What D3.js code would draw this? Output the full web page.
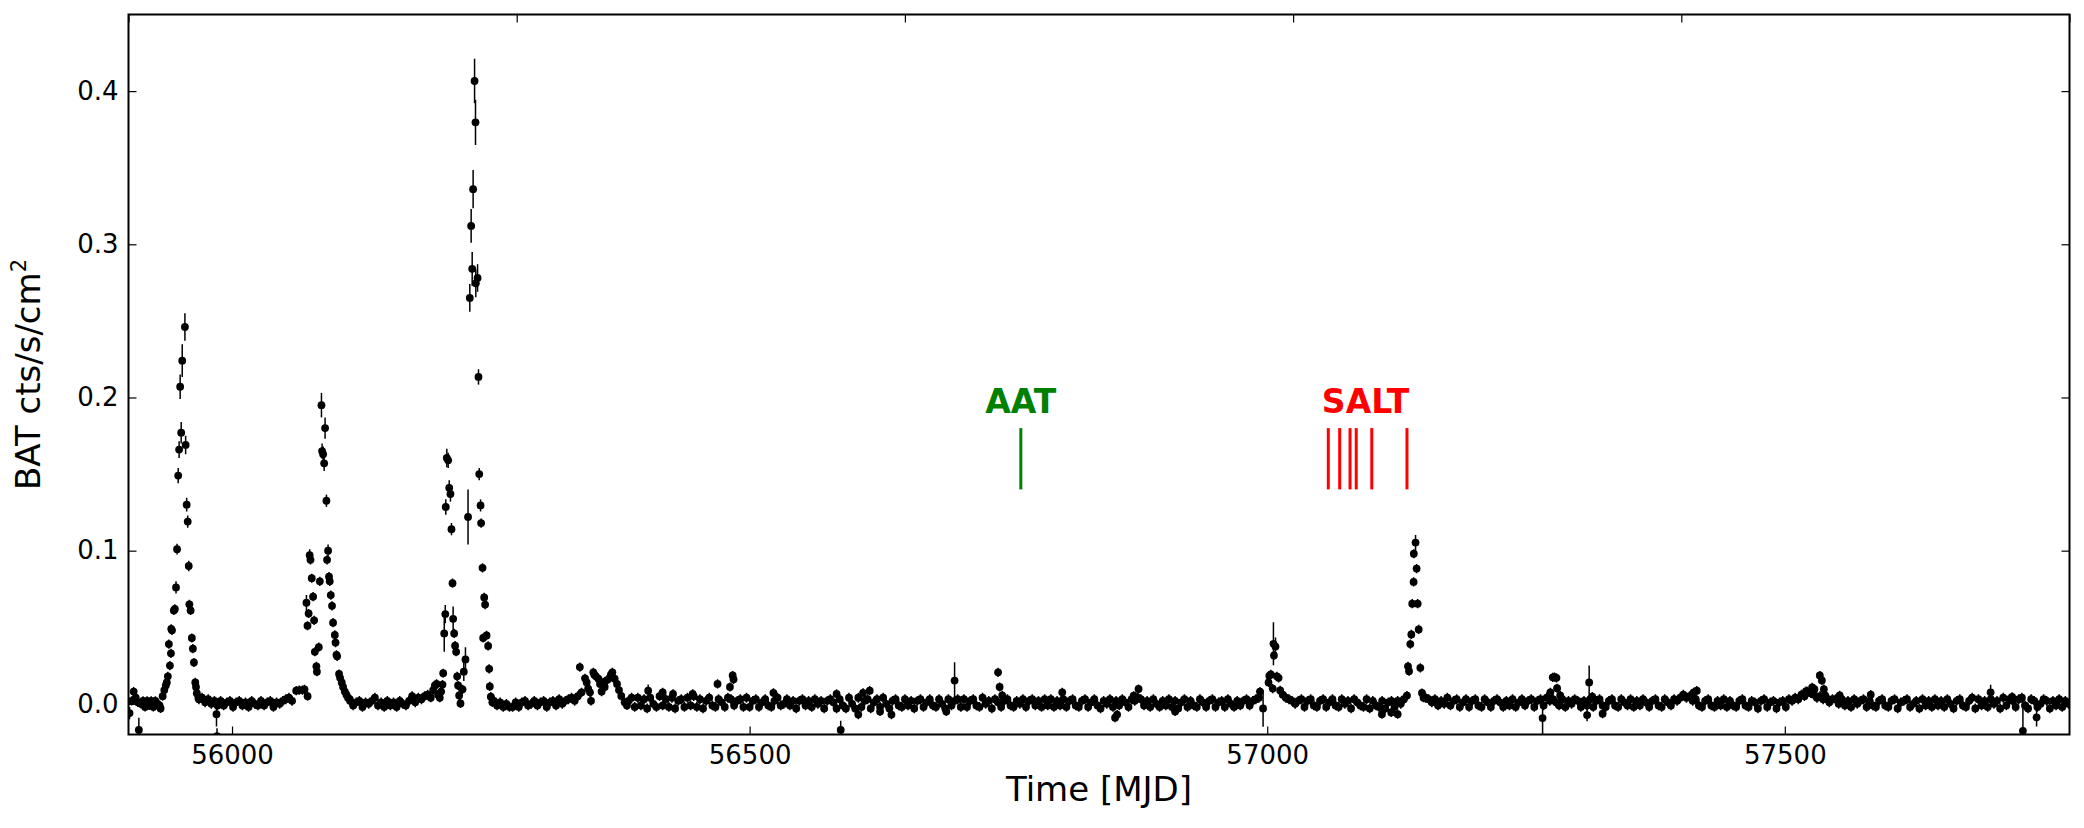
<!DOCTYPE html>
<html><head><meta charset="utf-8">
<script src="https://cdn.jsdelivr.net/npm/d3@7"></script>
<style>body{margin:0;background:#fff} svg text{font-family:"DejaVu Sans",sans-serif}</style>
</head><body><svg id="c" width="2084" height="828"></svg>
<script>
// ---------- DATA ----------
const mjdDomain = [55900, 57775];
const rateDomain = [-0.02, 0.45];
const xTicks = [56000, 56500, 57000, 57500];
const yTicks = [0.0, 0.1, 0.2, 0.3, 0.4];
const topTickFrac = [0, 0.2, 0.4, 0.6, 0.8, 1];

// [MJD, rate, error]
const pre1 = [[55901,-.006,.004],[55903,.002],[55905,.008,.003],[55907,.004],[55909,.001],[55910,-.017,.008],[55912,.0],[55914,.002],[55916,-.002],[55918,.002],[55920,-.001],[55922,.002],[55924,-.002],[55926,.002],[55928,.0],[55930,-.001],[55931,-.003]];
const burst1 = [[55933,.005],[55934.6,.009],[55936,.012],[55937,.014],[55938,.018],[55939,.039],[55940,.025],[55941,.033],[55941.3,.049],[55942,.048],[55943.8,.061],[55944.8,.062],[55945.9,.076,.004],[55946.9,.101,.0035],[55948,.149,.005],[55948.9,.166,.0055],[55949.9,.207,.008],[55950.9,.177,.007],[55951.9,.224,.0107],[55954.5,.246,.009],[55955.2,.169,.006],[55956.2,.130,.0045],[55957.2,.119,.004],[55958.2,.090,.0035],[55958.8,.065],[55960,.061],[55961.2,.043],[55962.2,.036],[55963.2,.027],[55964.5,.014],[55965.2,.011],[55966,.007],[55967.5,.004]];
const dip1 = [[55985,-.0067,.008],[55985.5,-.021,.005]];
const burst2 = [[56062,.0086],[56065,.009],[56068,.009],[56070,.0095],[56073,.005],[56071.9,.066,.005],[56072.9,.051],[56074,.059],[56075,.097,.004],[56075.8,.094],[56077,.082],[56078.3,.070],[56079.3,.0545],[56080,.034],[56081.5,.0245],[56082,.021],[56083.8,.037],[56084.8,.080],[56086.4,.195,.008],[56087,.165,.005],[56088,.163,.005],[56089,.157,.005],[56089.9,.180,.007],[56091.2,.1326,.004],[56091.8,.094],[56092.8,.100,.004],[56093.7,.083],[56094.4,.080],[56095.4,.071],[56096.6,.064],[56097.6,.053],[56099.3,.045],[56100,.040],[56100.9,.032],[56101.5,.031],[56103.4,.0195],[56104.4,.017],[56106,.014],[56107.3,.011],[56109,.008],[56110.5,.006],[56112,.004],[56113.7,.003]];
const burst3 = [[56192,.004],[56194.3,.009],[56196,.012],[56197.6,.013],[56199,.006],[56200.7,.004],[56202,.008],[56203.3,.0126],[56204,.020],[56205,.046,.012],[56206,.0586,.006],[56206.5,.1285,.005],[56207.5,.1605,.006],[56208.8,.159,.005],[56209.8,.141,.005],[56211,.137,.005],[56212,.114,.004],[56213,.0788],[56213.6,.0555,.008],[56214.6,.046],[56215.5,.038],[56216.5,.034],[56217.5,.018],[56218.4,.012],[56219.4,.0055,.005],[56220.7,.0003],[56222.7,.0095],[56223.9,.021,.006],[56225.5,.029,.008],[56228,.122,.018],[56229.7,.265,.009],[56231,.312,.011],[56232,.284,.011],[56232.9,.336,.0125],[56234.3,.4066,.0145],[56235.2,.3796,.0148],[56235.5,.2745,.009],[56237.2,.278,.009],[56238.1,.2134,.005],[56238.8,.150,.004],[56240.1,.1295,.004],[56240.6,.118],[56242,.0888],[56242.6,.043],[56243.6,.0695],[56244.5,.0648],[56245.9,.0447],[56247.4,.0378],[56248.4,.0229],[56249,.0114],[56250,.0047],[56251.5,.001]];
const bump56350 = [[56336,.024],[56337.7,.0075],[56341,.0167],[56342.6,.014],[56344,.010],[56345.8,.0075],[56346.8,.002],[56349,.0206],[56350,.019],[56351.6,.018],[56353.9,.0164],[56355.5,.013],[56357,.008],[56358.6,.014],[56360,.011],[56362.3,.0155],[56364.9,.017],[56366,.019],[56367.4,.0206],[56369.6,.0164],[56371.9,.013],[56373.8,.009],[56376,.0052],[56379.3,.001],[56381.5,-.001]];
const mid = [[56402,.0086,.004],[56416,.0075],[56426,.0065],[56445,.0065],[56469,.013],[56481,.011],[56483.6,.0185],[56484.5,.016],[56523,.0072],[56584,.0065],[56588,-.017,.006],[56605,-.007],[56609.6,.0072],[56616,.0086],[56626,-.005],[56637,-.007],[56690,-.005],[56698,.0152,.012],[56740,.0206],[56741.5,.011],[56744,.0055],[56802,.0075],[56853,-.009],[56855,-.007],[56871,.0053],[56875.7,.0097],[56911,-.005],[56993,.008],[56996,-.003,.012]];
const burst57005 = [[57001.3,.014],[57002,.0183],[57003.5,.0192],[57005.3,.010],[57006,.0392,.014],[57006.5,.0316],[57008,.0374,.006],[57009.3,.018],[57011,.017],[57012.5,.0088]];
const burst57140 = [[57110.8,-.0067],[57119.8,-.0056],[57126,-.0067],[57135,.0054],[57136,.0245],[57137,.0213],[57138.2,.039],[57139.2,.0453],[57140.1,.0654],[57141.4,.0796],[57141.6,.098],[57143.3,.1053,.005],[57144.3,.0883],[57145.3,.0654],[57146.3,.0486],[57147.9,.0235],[57149.5,.0071],[57151,.004]];
const late = [[57266,-.0093,.012],[57273.5,.0075],[57275.8,.0173],[57277.5,.0175],[57279.4,.017],[57280,.0102],[57283,.0055],[57309,-.0073,.004],[57311,.014,.011],[57314,.0047],[57324,-.0064],[57412,.0075],[57415,.0086],[57518,.0064],[57520.6,.0083],[57526.4,.0108],[57528.6,.0096],[57533.8,.0185],[57535.8,.0153],[57537.7,.0096],[57539,.0055],[57553,.0056],[57583,.006],[57698.8,.0075,.005],[57719.6,.0045],[57730,-.0176,.024],[57743.2,-.0088,.006]];

// quiescent stretches: start MJD and rates every baseStep days
const baseStep = 3;
const baseStarts = [55968, 56114, 56253, 56383, 57015, 57153];
const baseRates = [
 [.003,.004,.001,.003,.0,.002,-.001,.002,-.001,.001,.002,-.002,.001,.002,-.001,.001,-.002,.002,.0,-.001,.002,-.001,.001,.002,-.002,.001,.0,.002,.003,.004,.002],
 [.002,-.001,.001,.002,-.002,.001,.0,.002,.004,-.001,.001,-.002,.002,-.001,.001,-.002,.002,.0,-.001,.002,.005,.001,.004,.003,.005,.006],
 [.002,-.001,.001,-.002,.0,-.002,-.002,.001,-.002,.001,.002,-.001,.0,.002,-.001,.001,.002,-.002,.001,.002,-.001,.003,.0,.002,.003,.004,.002,.005],
 [.002,.004,-.002,.004,-.001,.003,-.003,.004,.0,-.002,.005,-.001,.003,-.002,.004,-.003,.002,.003,-.002,.004,-.001,.005,-.002,.003,-.003,.002,.004,-.001,-.002,.003,.001,-.002,.004,
  .003,-.001,.002,.003,-.002,.004,-.002,.002,.003,-.002,.001,.003,-.001,-.002,.002,.004,-.001,.0,.003,-.001,.002,-.003,.002,.003,-.001,.002,-.002,.003,.0,.002,-.003,.002,.003,
  .001,-.003,.003,-.001,-.003,.004,.0,-.003,.004,-.002,.002,.003,-.003,.001,.003,-.002,.004,.0,-.003,.002,.003,-.001,-.002,.003,-.001,.002,-.003,.002,.003,-.002,.001,.003,-.001,
  -.002,.003,.0,-.003,.003,-.001,.002,.003,-.002,.003,-.002,.002,.003,-.001,-.002,.004,.0,.002,-.003,.003,.001,-.002,.002,.003,-.001,-.002,.002,.0,.003,-.002,.002,.003,-.001,
  .002,-.002,.003,-.001,.003,-.002,.002,-.001,.003,-.002,.002,.003,-.001,-.002,.002,.003,-.002,.001,.003,-.001,-.003,.002,.0,.003,-.002,.002,-.001,.003,.001,-.002,.003,.002,.004,
  .003,-.001,.002,-.002,.003,.0,-.002,.002,-.001,.003,-.002,.002,-.003,.001,.003,-.002,.002,-.001,-.002,.003,.001,-.002,.002,.003,-.002,.001,.002,-.002,.003,.0,-.002,.002,-.001,.002,.003,-.001,.002,.003,.004],
 [.006,.004,.003,.002,.0,.002,.003,-.002,.002,.003,-.001,-.002,.002,.003,-.002,.001,.003,-.001,-.002,.003,.0,.002,-.003,.003,.001,-.001,-.002,.003,-.003,.002,-.001,-.002,.002,-.003,.001,.002,-.002,.002,.0,.003],
 [.004,.003,.001,.003,-.001,.002,.0,.004,-.001,.002,.003,-.002,.001,.003,-.002,.002,.003,-.001,-.002,.003,.001,-.002,.002,.003,.001,-.002,.002,-.001,.003,-.002,.001,.003,-.001,
  .002,.003,-.002,.002,.003,-.001,.004,.002,.003,.001,-.001,.003,-.002,.002,.0,.003,.002,-.002,.002,-.001,.003,-.002,.002,.003,-.001,-.002,.002,.003,-.001,-.002,.003,.001,-.001,
  .003,-.002,.002,-.001,.003,.001,-.002,.002,.003,-.001,-.002,.003,.001,-.001,.003,.002,.004,.006,.004,.005,.002,.003,-.001,-.002,.002,.003,-.001,-.002,.002,-.001,.003,-.002,.002,
  -.001,-.002,.002,.003,-.001,-.002,.002,.001,-.003,.002,.003,-.002,.001,.002,-.003,.001,.002,-.002,.003,.002,.004,.003,.006,.005,.008,.007,.006,.004,.005,.003,.004,.001,.003,
  .003,.0,.003,-.001,.002,-.002,.003,.0,.002,.003,-.002,.002,-.001,-.002,.002,.003,-.001,-.002,.002,.003,-.003,.001,.002,.003,-.002,.0,.002,-.003,.003,-.001,.002,-.002,.003,
  -.001,.002,-.002,.003,.0,-.003,.002,.003,-.001,-.002,.002,.004,-.003,.003,-.001,.002,-.002,.003,.0,.002,-.003,.004,-.001,.003,.002,-.002,.003,.004,-.001,-.003,.003,.002,-.002,.0,.003,.002,-.003,.002,-.001,.003,-.002,.002,.0]
];

// observation epochs
const aatMJD = [56762];
const saltMJD = [57059, 57070, 57080, 57086, 57101, 57135];
const obsLine = [0.14, 0.18];
const obsLabelY = 0.19;
const aatLabelMJD = 56762, saltLabelMJD = 57095;

// ---------- CHART ----------
const W = 2084, H = 828;
const m = {l: 128.5, t: 14.5, r: W - 2069.5, b: H - 734.5};
const x = d3.scaleLinear().domain(mjdDomain).range([m.l, W - m.r]);
const y = d3.scaleLinear().domain(rateDomain).range([H - m.b, m.t]);
const svg = d3.select('#c');

const pts = [];
[pre1, burst1, dip1, burst2, burst3, bump56350, mid, burst57005, burst57140, late]
  .forEach(a => a.forEach(d => pts.push({t: d[0], r: d[1], e: d[2] ?? 0.003})));
baseStarts.forEach((s, i) => baseRates[i].forEach((r, j) => pts.push({t: s + baseStep * j, r, e: 0.0032})));
pts.sort((a, b) => a.t - b.t);

svg.append('defs').append('clipPath').attr('id', 'clip').append('rect')
  .attr('x', m.l).attr('y', m.t).attr('width', W - m.l - m.r).attr('height', H - m.t - m.b);

const g = svg.append('g').attr('clip-path', 'url(#clip)');
g.selectAll('line.err').data(pts).join('line').attr('class', 'err')
  .attr('x1', d => x(d.t)).attr('x2', d => x(d.t))
  .attr('y1', d => y(d.r - d.e)).attr('y2', d => y(d.r + d.e))
  .attr('stroke', '#000').attr('stroke-width', 1.5);
g.selectAll('circle').data(pts).join('circle')
  .attr('cx', d => x(d.t)).attr('cy', d => y(d.r)).attr('r', 3.9).attr('fill', '#000');

// observation markers
g.selectAll('line.aat').data(aatMJD).join('line').attr('class', 'aat')
  .attr('x1', d => x(d)).attr('x2', d => x(d)).attr('y1', y(obsLine[0])).attr('y2', y(obsLine[1]))
  .attr('stroke', '#008000').attr('stroke-width', 3);
g.selectAll('line.salt').data(saltMJD).join('line').attr('class', 'salt')
  .attr('x1', d => x(d)).attr('x2', d => x(d)).attr('y1', y(obsLine[0])).attr('y2', y(obsLine[1]))
  .attr('stroke', '#ff0000').attr('stroke-width', 3);
svg.append('text').attr('x', x(aatLabelMJD)).attr('y', y(obsLabelY)).attr('text-anchor', 'middle')
  .attr('font-size', 33).attr('font-weight', 'bold').attr('fill', '#008000').text('AAT');
svg.append('text').attr('x', x(saltLabelMJD)).attr('y', y(obsLabelY)).attr('text-anchor', 'middle')
  .attr('font-size', 33).attr('font-weight', 'bold').attr('fill', '#ff0000').text('SALT');

// axes
function style(sel) {
  sel.select('.domain').remove();
  sel.attr('font-size', 26).attr('font-family', '"DejaVu Sans", sans-serif');
  sel.selectAll('.tick line').attr('stroke', '#000').attr('stroke-width', 1.2);
  sel.selectAll('.tick text').attr('fill', '#000');
}
svg.append('g').attr('transform', `translate(0,${H - m.b})`)
  .call(d3.axisBottom(x).tickValues(xTicks).tickFormat(d3.format('d')).tickSize(-8).tickPadding(11)).call(style);
svg.append('g').attr('transform', `translate(${m.l},0)`)
  .call(d3.axisLeft(y).tickValues(yTicks).tickFormat(d3.format('.1f')).tickSize(-8).tickPadding(10)).call(style);
svg.append('g').attr('transform', `translate(${W - m.r},0)`)
  .call(d3.axisRight(y).tickValues(yTicks).tickFormat('').tickSize(-8)).call(style);
const xTop = d3.scaleLinear().domain([0, 1]).range(x.range());
svg.append('g').attr('transform', `translate(0,${m.t})`)
  .call(d3.axisTop(xTop).tickValues(topTickFrac).tickFormat('').tickSize(-8)).call(style);

// frame
svg.append('rect').attr('x', m.l).attr('y', m.t).attr('width', W - m.l - m.r).attr('height', H - m.t - m.b)
  .attr('fill', 'none').attr('stroke', '#000').attr('stroke-width', 2);

// axis labels
svg.append('text').attr('x', (m.l + W - m.r) / 2).attr('y', 801).attr('text-anchor', 'middle')
  .attr('font-size', 34).text('Time [MJD]');
const yl = svg.append('text').attr('transform', `translate(40,${(m.t + H - m.b) / 2}) rotate(-90)`)
  .attr('text-anchor', 'middle').attr('font-size', 34);
yl.append('tspan').text('BAT cts/s/cm');
yl.append('tspan').attr('font-size', 21).attr('dy', -14).text('2');
</script></body></html>
